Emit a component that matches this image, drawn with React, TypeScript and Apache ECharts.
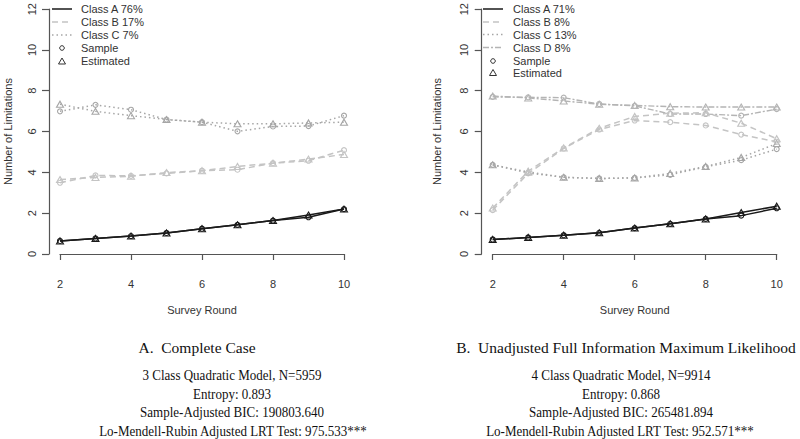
import React, { useEffect, useRef } from "react";
import * as echarts from "echarts";

const rounds = [2, 3, 4, 5, 6, 7, 8, 9, 10];

// Panel A (Complete Case)
const leftASample = [0.64, 0.76, 0.88, 1.03, 1.24, 1.43, 1.64, 1.8, 2.2];
const leftAEst = [0.64, 0.76, 0.88, 1.03, 1.24, 1.43, 1.64, 1.91, 2.2];
const leftBSample = [3.49, 3.85, 3.83, 3.95, 4.08, 4.13, 4.45, 4.57, 5.09];
const leftBEst = [3.65, 3.75, 3.81, 3.99, 4.08, 4.29, 4.45, 4.65, 4.88];
const leftCSample = [6.99, 7.31, 7.07, 6.59, 6.46, 6.01, 6.25, 6.27, 6.78];
const leftCEst = [7.34, 6.99, 6.78, 6.59, 6.46, 6.38, 6.38, 6.42, 6.46];

// Panel B (Unadjusted FIML)
const rightASample = [0.71, 0.81, 0.92, 1.04, 1.27, 1.48, 1.72, 1.88, 2.24];
const rightAEst = [0.71, 0.81, 0.92, 1.04, 1.27, 1.48, 1.72, 2.03, 2.34];
const rightBSample = [2.15, 3.95, 5.17, 6.1, 6.54, 6.46, 6.3, 5.85, 5.5];
const rightBEst = [2.25, 4.06, 5.2, 6.16, 6.74, 6.9, 6.92, 6.41, 5.65];
const rightCSample = [4.37, 3.97, 3.76, 3.7, 3.73, 3.88, 4.27, 4.6, 5.14];
const rightCEst = [4.37, 4.02, 3.76, 3.7, 3.73, 3.95, 4.29, 4.73, 5.41];
const rightDSample = [7.7, 7.68, 7.66, 7.35, 7.26, 6.86, 6.86, 6.78, 7.1];
const rightDEst = [7.74, 7.65, 7.5, 7.34, 7.28, 7.22, 7.2, 7.2, 7.2];

const leftLegend = ["Class A 76%", "Class B 17%", "Class C 7%"];
const rightLegend = ["Class A 71%", "Class B 8%", "Class C 13%", "Class D 8%"];
const markerLegend = ["Sample", "Estimated"];

const leftCaption = [
  "A.  Complete Case",
  "3 Class Quadratic Model, N=5959",
  "Entropy: 0.893",
  "Sample-Adjusted BIC: 190803.640",
  "Lo-Mendell-Rubin Adjusted LRT Test: 975.533***",
];
const rightCaption = [
  "B.  Unadjusted Full Information Maximum Likelihood",
  "4 Class Quadratic Model, N=9914",
  "Entropy: 0.868",
  "Sample-Adjusted BIC: 265481.894",
  "Lo-Mendell-Rubin Adjusted LRT Test: 952.571***",
];

const SANS = "'Liberation Sans', Arial, sans-serif";
const SERIF = "'Liberation Serif', 'Times New Roman', serif";

const styles = [
  { color: "#1a1a1a", dash: "solid" as any, width: 1.5 },
  { color: "#c4c4c4", dash: [6, 4], width: 1.5 },
  { color: "#a6a6a6", dash: [1.5, 3], width: 1.5 },
  { color: "#b4b4b4", dash: [6, 2, 2, 2], width: 1.4 },
];

function mkSeries(vals: number[], idx: number, cls: number, est: boolean) {
  const st = styles[cls];
  return {
    type: "line",
    xAxisIndex: idx,
    yAxisIndex: idx,
    data: rounds.map((r, i) => [r, vals[i]]),
    symbol: est ? "triangle" : "circle",
    symbolSize: est ? [7, 6] : 5,
    showSymbol: true,
    lineStyle: { color: st.color, width: st.width, type: st.dash },
    itemStyle: { color: "rgba(0,0,0,0)", borderColor: st.color, borderWidth: 1.1 },
    silent: true,
    z: 3 - cls,
  };
}

function axisX(idx: number) {
  return {
    type: "value",
    gridIndex: idx,
    min: 2,
    max: 10,
    interval: 2,
    offset: 10,
    name: "Survey Round",
    nameLocation: "middle",
    nameGap: 40,
    nameTextStyle: { fontFamily: SANS, fontSize: 11, color: "#333" },
    axisLine: { show: true, lineStyle: { color: "#555", width: 1.2 } },
    axisTick: { show: true, length: 6, lineStyle: { color: "#555", width: 1.2 } },
    axisLabel: { fontFamily: SANS, fontSize: 11, color: "#333", margin: 14 },
    splitLine: { show: false },
  };
}

function axisY(idx: number, gap: number) {
  return {
    type: "value",
    gridIndex: idx,
    min: 0,
    max: 12,
    interval: 2,
    offset: 11,
    name: "Number of Limitations",
    nameLocation: "middle",
    nameGap: gap,
    nameRotate: 90,
    nameTextStyle: { fontFamily: SANS, fontSize: 11, color: "#333" },
    axisLine: { show: true, lineStyle: { color: "#555", width: 1.2 } },
    axisTick: { show: true, length: 7, lineStyle: { color: "#555", width: 1.2 } },
    axisLabel: { fontFamily: SANS, fontSize: 11, color: "#333", margin: 12, rotate: 90 },
    splitLine: { show: false },
  };
}

function legendGraphics(labels: string[], lx1: number, lx2: number, tx: number, rowY: number[]) {
  const els: any[] = [];
  labels.forEach((lab, i) => {
    const st = styles[i];
    els.push({
      type: "line",
      shape: { x1: lx1, y1: rowY[i], x2: lx2, y2: rowY[i] },
      style: { stroke: st.color, lineWidth: st.width, lineDash: st.dash === "solid" ? null : st.dash },
    });
    els.push({
      type: "text",
      x: tx,
      y: rowY[i],
      style: { text: lab, fontFamily: SANS, fontSize: 11, fill: "#333", align: "left", verticalAlign: "middle" },
    });
  });
  const mx = (lx1 + lx2) / 2;
  const yS = rowY[labels.length];
  const yE = rowY[labels.length + 1];
  els.push({ type: "circle", shape: { cx: mx, cy: yS, r: 2.3 }, style: { fill: "none", stroke: "#333", lineWidth: 1 } });
  els.push({
    type: "polygon",
    shape: { points: [[mx, yE - 3], [mx - 3.5, yE + 3], [mx + 3.5, yE + 3]] },
    style: { fill: "none", stroke: "#333", lineWidth: 1 },
  });
  markerLegend.forEach((lab, j) => {
    els.push({
      type: "text",
      x: tx,
      y: rowY[labels.length + j],
      style: { text: lab, fontFamily: SANS, fontSize: 11, fill: "#333", align: "left", verticalAlign: "middle" },
    });
  });
  return els;
}

function captionGraphics(lines: string[], cx: number[]) {
  const ys = [347, 375, 393.5, 412, 431];
  return lines.map((t, i) => ({
    type: "text",
    x: cx[i],
    y: ys[i],
    scaleX: i === 0 ? 1 : 0.84,
    style: { text: t, fontFamily: SERIF, fontSize: 15.5, fill: "#111", align: "center", verticalAlign: "middle" },
  }));
}

export default function App() {
  const ref = useRef<HTMLDivElement>(null);
  useEffect(() => {
    if (!ref.current) return;
    const chart = echarts.init(ref.current, null, { renderer: "svg" });
    const series = [
      mkSeries(leftASample, 0, 0, false),
      mkSeries(leftAEst, 0, 0, true),
      mkSeries(leftBSample, 0, 1, false),
      mkSeries(leftBEst, 0, 1, true),
      mkSeries(leftCSample, 0, 2, false),
      mkSeries(leftCEst, 0, 2, true),
      mkSeries(rightASample, 1, 0, false),
      mkSeries(rightAEst, 1, 0, true),
      mkSeries(rightBSample, 1, 1, false),
      mkSeries(rightBEst, 1, 1, true),
      mkSeries(rightCSample, 1, 2, false),
      mkSeries(rightCEst, 1, 2, true),
      mkSeries(rightDSample, 1, 3, false),
      mkSeries(rightDEst, 1, 3, true),
    ];
    const leftRows = [9, 22, 35, 48, 61];
    const rightRows = [9, 22, 34.5, 47.5, 61, 72.5];
    chart.setOption({
      animation: false,
      backgroundColor: "#fff",
      grid: [
        { left: 60, top: 5, width: 284, height: 249 },
        { left: 492.7, top: 5, width: 284, height: 249 },
      ],
      xAxis: [axisX(0), axisX(1)],
      yAxis: [axisY(0, 36), axisY(1, 39)],
      series,
      graphic: [
        ...legendGraphics(leftLegend, 52, 72, 81, leftRows),
        ...legendGraphics(rightLegend, 483, 503, 513, rightRows),
        ...captionGraphics(leftCaption, [197, 232, 232, 232, 233]),
        ...captionGraphics(rightCaption, [626, 621, 621, 621, 620]),
      ],
    });
    return () => chart.dispose();
  }, []);
  return (
    <div
      ref={ref}
      style={{ position: "fixed", left: 0, top: 0, width: 800, height: 439, background: "#fff" }}
    />
  );
}
